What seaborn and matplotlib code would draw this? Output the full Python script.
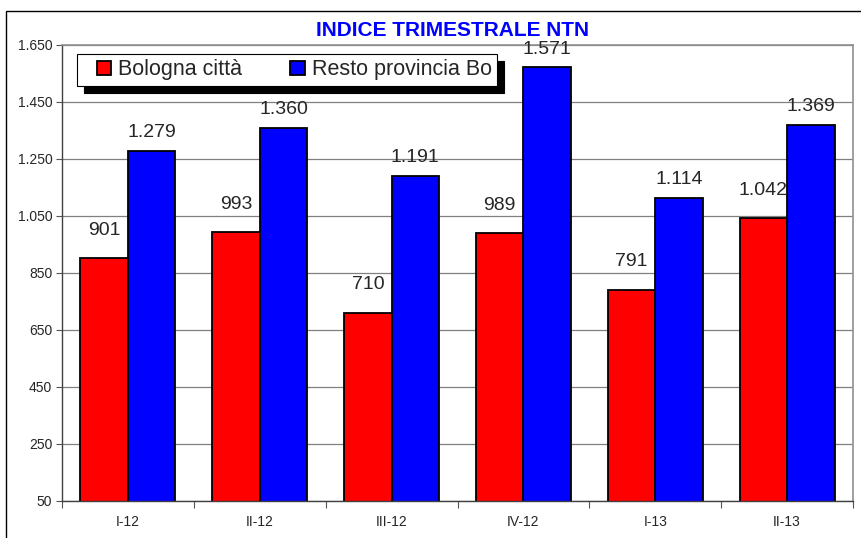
import matplotlib
matplotlib.use("Agg")
import matplotlib.pyplot as plt
import matplotlib.patches as mpatches
from matplotlib.legend_handler import HandlerPatch
import seaborn as sns
import pandas as pd

# Quarterly NTN index values
quarters = ["I-12", "II-12", "III-12", "IV-12", "I-13", "II-13"]
bologna_citta = [901, 993, 710, 989, 791, 1042]
resto_provincia = [1279, 1360, 1191, 1571, 1114, 1369]
series_names = ["Bologna città", "Resto provincia Bo"]
y_ticks = [50, 250, 450, 650, 850, 1050, 1250, 1450, 1650]

df = pd.DataFrame({
    "Trimestre": quarters * 2,
    "Serie": [series_names[0]] * len(quarters) + [series_names[1]] * len(quarters),
    "NTN": bologna_citta + resto_provincia,
})

def it_fmt(v):
    return f"{int(v):,}".replace(",", ".")

#Legend marker: small square pushed to the right end of the handle area
def square_patch(legend, orig_handle, xdescent, ydescent, width, height, fontsize):
    return mpatches.Rectangle((-xdescent + width - height, -ydescent), height, height)

sns.set_style("white")
plt.rcParams["font.family"] = ["Liberation Sans", "DejaVu Sans"]

fig = plt.figure(figsize=(8.62, 5.38), dpi=100)
ax = fig.add_axes([0.0719, 0.0688, 0.9177, 0.8476])

sns.barplot(data=df, x="Trimestre", y="NTN", hue="Serie", order=quarters,
            hue_order=series_names, palette=["#ff0000", "#0000ff"],
            width=0.72, gap=0, edgecolor="black", linewidth=1.3,
            saturation=1, ax=ax)

# value labels above bars (red ones sit a bit higher, as in the original)
for cont, pad in zip(ax.containers, [14, 7]):
    ax.bar_label(cont, labels=[it_fmt(b.get_height()) for b in cont],
                 padding=pad, fontsize=14)

ax.set_ylim(50, 1650)
ax.set_xlim(-0.5, len(quarters) - 0.5)
ax.set_yticks(y_ticks)
ax.set_yticklabels([it_fmt(t) for t in y_ticks], fontsize=10)
ax.set_xlabel("")
ax.set_ylabel("")
ax.tick_params(axis="x", length=0, labelsize=10, pad=10)
ax.tick_params(axis="y", length=4, width=0.8, color="#555555", direction="out", pad=3, left=True)
ax.set_xticks([i + 0.5 for i in range(-1, len(quarters))], minor=True)
ax.tick_params(axis="x", which="minor", length=5, width=0.8, color="#555555", bottom=True)

ax.yaxis.grid(True, color="#808080", linewidth=0.9)
ax.set_axisbelow(True)
for side in ["top", "right"]:
    ax.spines[side].set_color("#909090")
    ax.spines[side].set_linewidth(1.2)
for side in ["left", "bottom"]:
    ax.spines[side].set_color("#404040")
    ax.spines[side].set_linewidth(1.0)

handles, labels = ax.get_legend_handles_labels()
leg = ax.legend(handles, labels, loc="upper left",
                bbox_to_anchor=(0.019, 0.5, 0.531, 0.4803), mode="expand", ncol=2,
                fontsize=15.5, frameon=True, fancybox=False, framealpha=1,
                edgecolor="black", handlelength=1.34, handleheight=0.65,
                handletextpad=0.33, borderpad=0.25, borderaxespad=0,
                handler_map={mpatches.Rectangle: HandlerPatch(patch_func=square_patch)},
                shadow={"ox": 5, "oy": -5, "color": "black", "alpha": 1})
leg.get_frame().set_linewidth(0.8)
leg.set_zorder(5)

fig.text(0.525, 0.944, "INDICE TRIMESTRALE NTN", ha="center", va="center",
         fontsize=15, fontweight="bold", color="#0000ff",
         family=["Liberation Sans Narrow", "Liberation Sans", "DejaVu Sans"])

# outer chart frame (cut off at right and bottom)
frame = mpatches.Rectangle((6 / 862, -0.05), 1.0, 1 - 11 / 538 + 0.05,
                           transform=fig.transFigure, fill=False,
                           edgecolor="black", linewidth=1.0, clip_on=False)
fig.patches.append(frame)

fig.savefig("out.png", dpi=100)
